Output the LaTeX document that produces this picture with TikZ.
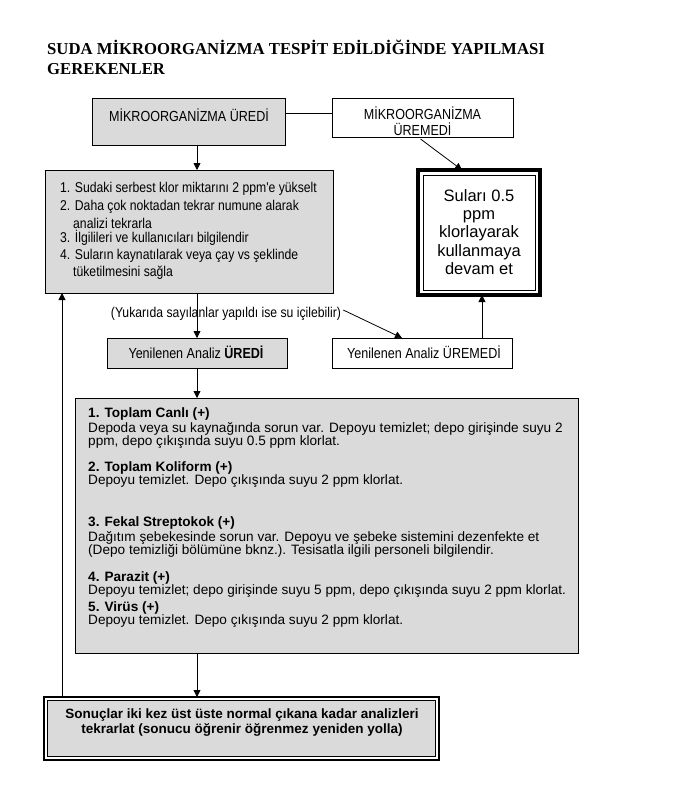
\documentclass[tikz,border=0pt]{standalone}
\usepackage{fontspec}
\setmainfont{Liberation Serif}
\newfontfamily\arial{Liberation Sans}
\newfontfamily\narrow[FakeStretch=0.86]{Liberation Sans}
\usetikzlibrary{arrows.meta,calc}
\definecolor{boxgray}{HTML}{DADADA}
\begin{document}
\begin{tikzpicture}[x=1pt,y=1pt,
 arr/.style={-{Triangle[length=7pt,width=7pt]}, line width=0.8pt},
 ln/.style={line width=0.8pt},
 graybox/.style={draw, line width=0.9pt, fill=boxgray, inner sep=0, outer sep=0, rectangle},
 whitebox/.style={draw, line width=0.9pt, fill=white, inner sep=0, outer sep=0, rectangle},
 nt/.style={font=\narrow\fontsize{14.6}{16.5}\selectfont, inner sep=0},
 lt/.style={font=\narrow\fontsize{14.2}{16.5}\selectfont, inner sep=0, anchor=west},
 gt/.style={font=\arial\fontsize{13.6}{15}\selectfont, inner sep=0, anchor=base west},
 ]
\useasboundingbox (0,0) rectangle (676,-787);
\fill[white] (0,0) rectangle (676,-787);

% title
\node[anchor=base west, inner sep=0, font=\fontsize{16.7}{19}\selectfont\bfseries] (t1) at (47,-54) {SUDA MİKROORGANİZMA TESPİT EDİLDİĞİNDE YAPILMASI};
\node[anchor=base west, inner sep=0, font=\fontsize{16.7}{19}\selectfont\bfseries] (t2) at (47,-74) {GEREKENLER};

% top boxes
\node[graybox, minimum width=193pt, minimum height=47pt] (b1) at (188.5,-121.5) {};
\node[nt] (b1t) at (189,-115) {MİKROORGANİZMA ÜREDİ};
\node[whitebox, minimum width=181pt, minimum height=39pt] (b2) at (422.5,-117.5) {};
\node[nt, align=center] (b2t) at (422.5,-121) {MİKROORGANİZMA\\ÜREMEDİ};
\coordinate (ly) at (0,-113);
\draw[ln] (b1.east |- ly) -- (b2.west |- ly);

% list box
\node[graybox, minimum width=288pt, minimum height=123pt] (list) at (189,-231.5) {};
\node[lt] (l1) at (60,-189) {1. Sudaki serbest klor miktarını 2 ppm'e yükselt};
\node[lt] (l2) at (60,-207) {2. Daha çok noktadan tekrar numune alarak};
\node[lt] (l2b) at (73,-223) {analizi tekrarla};
\node[lt] (l3) at (60,-238) {3. İlgilileri ve kullanıcıları bilgilendir};
\node[lt] (l4) at (60,-256) {4. Suların kaynatılarak veya çay vs şeklinde};
\node[lt] (l4b) at (73,-273) {tüketilmesini sağla};

% Sulari box
\node[draw, line width=4pt, outer sep=0, inner sep=0, minimum width=122pt, minimum height=125pt] (suli) at (479,-232.5) {};
\draw[line width=0.8pt] ([shift={(5,-5)}]suli.north west) rectangle ([shift={(-5,5)}]suli.south east);
\node[font=\arial\fontsize{16.5}{18.3}\selectfont, align=center, inner sep=0] (sulit) at (479,-232) {Suları 0.5\\ppm\\klorlayarak\\kullanmaya\\devam et};
\draw[arr] ([xshift=-2pt,yshift=-2pt]b2.south) -- ([xshift=-17pt]suli.north);

% middle row
\coordinate (sp) at (197,0);
\coordinate (fb) at (62,0);
\node[graybox, minimum width=180pt, minimum height=30pt] (r1) at (197,-353) {};
\node[nt] (r1t) at (196,-352.5) {Yenilenen Analiz \textbf{ÜREDİ}};
\node[whitebox, minimum width=180pt, minimum height=30pt] (r2) at (422,-353) {};
\node[nt] (r2t) at (424,-352.5) {Yenilenen Analiz ÜREMEDİ};
\draw[arr] (sp |- b1.south) -- (sp |- list.north);
\draw[arr] (sp |- list.south) -- (sp |- r1.north);
\node[lt, anchor=center] (yuk) at (226,-314) {(Yukarıda sayılanlar yapıldı ise su içilebilir)};
\draw[arr] ([xshift=2pt,yshift=4pt]yuk.east) -- ([xshift=-20pt]r2.north);
\draw[arr] ([xshift=60pt]r2.north) -- ([xshift=60pt]r2.north |- suli.south);

% big gray box
\node[graybox, minimum width=503pt, minimum height=255pt] (big) at (326.5,-525.5) {};
\draw[arr] (sp |- r1.south) -- (sp |- big.north);
\node[gt] (g1) at (88,-417.5) {\textbf{1. Toplam Canlı (+)}};
\node[gt] (g2) at (88,-432.5) {Depoda veya su kaynağında sorun var. Depoyu temizlet; depo girişinde suyu 2};
\node[gt] (g3) at (88,-445.5) {ppm, depo çıkışında suyu 0.5 ppm klorlat.};
\node[gt] (g4) at (88,-471.5) {\textbf{2. Toplam Koliform (+)}};
\node[gt] (g5) at (88,-484.5) {Depoyu temizlet. Depo çıkışında suyu 2 ppm klorlat.};
\node[gt] (g6) at (88,-526.5) {\textbf{3. Fekal Streptokok (+)}};
\node[gt] (g7) at (88,-541.5) {Dağıtım şebekesinde sorun var. Depoyu ve şebeke sistemini dezenfekte et};
\node[gt] (g8) at (88,-554.5) {(Depo temizliği bölümüne bknz.). Tesisatla ilgili personeli bilgilendir.};
\node[gt] (g9) at (88,-581.5) {\textbf{4. Parazit (+)}};
\node[gt] (g10) at (88,-594.5) {Depoyu temizlet; depo girişinde suyu 5 ppm, depo çıkışında suyu 2 ppm klorlat.};
\node[gt] (g11) at (88,-611.5) {\textbf{5. Virüs (+)}};
\node[gt] (g12) at (88,-624.5) {Depoyu temizlet. Depo çıkışında suyu 2 ppm klorlat.};

% final box
\node[draw, line width=2.5pt, outer sep=0, inner sep=0, minimum width=395pt, minimum height=63pt] (fin) at (241.5,-728.5) {};
\draw[line width=0.8pt, fill=boxgray] ([shift={(3.5,-3.5)}]fin.north west) rectangle ([shift={(-3.5,3.5)}]fin.south east);
\node[font=\arial\bfseries\fontsize{13.5}{15}\selectfont, align=center, inner sep=0] (fint) at (242,-722.5) {Sonuçlar iki kez üst üste normal çıkana kadar analizleri\\tekrarlat (sonucu öğrenir öğrenmez yeniden yolla)};
\draw[arr] (sp |- big.south) -- (sp |- fin.north);
\draw[arr] (fb |- fin.north) -- (fb |- list.south);
\end{tikzpicture}
\end{document}
